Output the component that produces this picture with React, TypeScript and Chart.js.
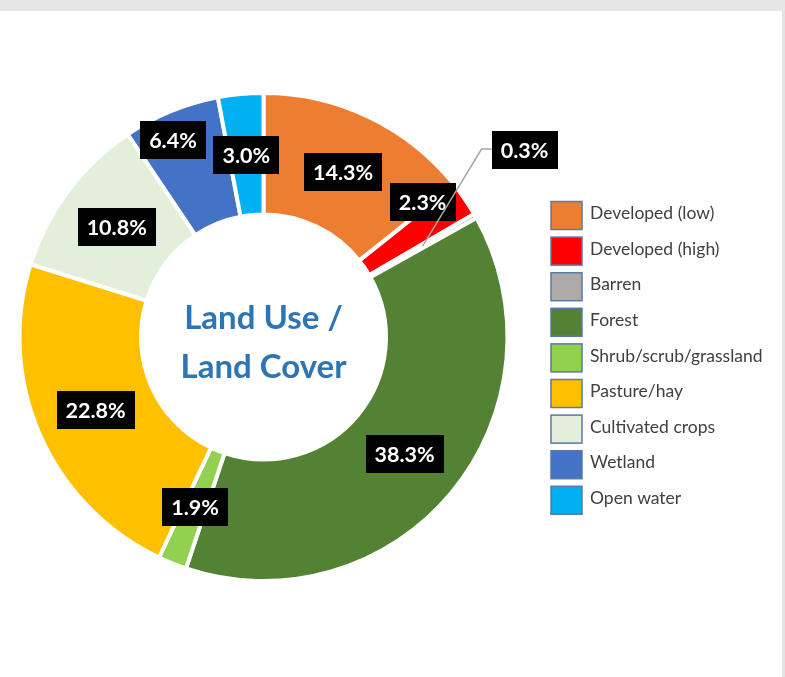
import React, { useEffect, useRef } from "react";
import { Chart, registerables } from "chart.js";

Chart.register(...registerables);

const categories = [
  "Developed (low)",
  "Developed (high)",
  "Barren",
  "Forest",
  "Shrub/scrub/grassland",
  "Pasture/hay",
  "Cultivated crops",
  "Wetland",
  "Open water",
];
const shares = [14.3, 2.3, 0.3, 38.3, 1.9, 22.8, 10.8, 6.4, 3.0];
const sliceColors = [
  "#ED7D31",
  "#FF0000",
  "#AEAAAA",
  "#548235",
  "#92D050",
  "#FFC000",
  "#E2EFDA",
  "#4472C4",
  "#00B0F0",
];
const centerTitle = ["Land Use /", "Land Cover"];

// layout tweaks for labels (pixel nudges from slice centre)
const labelNudges: Record<number, [number, number]> = {
  1: [8, -31],
  7: [-21, -27],
};
const externalLabels: Record<number, { elbow: [number, number]; box: [number, number] }> = {
  2: { elbow: [59, -97], box: [102, -96] },
};

const FONT = "Lato, 'Noto Sans', sans-serif";

const pagePlugin = {
  id: "pageDecor",
  beforeDraw(chart: any) {
    const ctx = chart.ctx;
    ctx.save();
    ctx.fillStyle = "#ffffff";
    ctx.fillRect(0, 0, chart.width, chart.height);
    ctx.fillStyle = "#e6e6e6";
    ctx.fillRect(0, 0, chart.width, 11);
    ctx.fillStyle = "#e3e3e3";
    ctx.fillRect(chart.width - 3, 11, 3, chart.height - 11);
    ctx.restore();
  },
};

const labelPlugin = {
  id: "sliceLabels",
  afterDatasetsDraw(chart: any) {
    const ctx = chart.ctx;
    const meta = chart.getDatasetMeta(0);
    const values = chart.data.datasets[0].data as number[];
    ctx.save();
    ctx.font = `bold 21.5px ${FONT}`;
    ctx.textAlign = "center";
    ctx.textBaseline = "middle";
    meta.data.forEach((arc: any, i: number) => {
      const p = arc.getProps(["startAngle", "endAngle", "innerRadius", "outerRadius", "x", "y"], true);
      const mid = (p.startAngle + p.endAngle) / 2;
      const r = (p.innerRadius + p.outerRadius) / 2;
      const ax = p.x + Math.cos(mid) * r;
      const ay = p.y + Math.sin(mid) * r;
      let bx = ax;
      let by = ay;
      const ext = externalLabels[i];
      if (ext) {
        bx = ax + ext.box[0];
        by = ay + ext.box[1];
      } else if (labelNudges[i]) {
        bx = ax + labelNudges[i][0];
        by = ay + labelNudges[i][1];
      }
      const text = values[i].toFixed(1) + "%";
      const w = ctx.measureText(text).width + 18;
      const h = 38;
      if (ext) {
        ctx.strokeStyle = "#a6a6a6";
        ctx.lineWidth = 1.5;
        ctx.beginPath();
        ctx.moveTo(ax, ay);
        ctx.lineTo(ax + ext.elbow[0], ay + ext.elbow[1]);
        ctx.lineTo(bx - w / 2, ay + ext.elbow[1]);
        ctx.stroke();
      }
      ctx.fillStyle = "#000000";
      ctx.fillRect(Math.round(bx - w / 2), Math.round(by - h / 2), Math.round(w), h);
      ctx.fillStyle = "#ffffff";
      ctx.fillText(text, bx, by + 1);
    });
    ctx.restore();
  },
};

const centerPlugin = {
  id: "centerTitle",
  afterDraw(chart: any) {
    const ctx = chart.ctx;
    const arc = chart.getDatasetMeta(0).data[0];
    if (!arc) return;
    const cx = arc.x;
    const cy = arc.y;
    ctx.save();
    ctx.font = `bold 33px ${FONT}`;
    ctx.fillStyle = "#2E75B6";
    ctx.textAlign = "center";
    ctx.textBaseline = "alphabetic";
    ctx.fillText(centerTitle[0], cx, cy - 8);
    ctx.fillText(centerTitle[1], cx, cy + 41);
    ctx.restore();
  },
};

const legendPlugin = {
  id: "sideLegend",
  afterDraw(chart: any) {
    const ctx = chart.ctx;
    ctx.save();
    const x0 = 551;
    const y0 = 201.5;
    const step = 35.6;
    categories.forEach((name, i) => {
      const y = y0 + i * step;
      ctx.fillStyle = sliceColors[i];
      ctx.fillRect(x0, y, 31, 28);
      ctx.strokeStyle = "#5A78A8";
      ctx.lineWidth = 1.5;
      ctx.strokeRect(x0, y, 31, 28);
      ctx.fillStyle = "#404040";
      ctx.font = `17.5px ${FONT}`;
      ctx.textAlign = "left";
      ctx.textBaseline = "middle";
      ctx.fillText(name, 590, y + 12);
    });
    ctx.restore();
  },
};

export default function App() {
  const ref = useRef<HTMLCanvasElement | null>(null);
  useEffect(() => {
    if (!ref.current) return;
    const chart = new Chart(ref.current, {
      type: "doughnut",
      data: {
        labels: categories,
        datasets: [
          {
            data: shares,
            backgroundColor: sliceColors,
            borderColor: "#ffffff",
            borderWidth: 4,
          },
        ],
      },
      options: {
        responsive: true,
        maintainAspectRatio: false,
        animation: false,
        cutout: "50.2%",
        layout: {
          padding: { left: 17.5, top: 91, right: 275.5, bottom: 94 },
        },
        plugins: {
          legend: { display: false },
          tooltip: { enabled: false },
        },
      },
      plugins: [pagePlugin, labelPlugin, centerPlugin, legendPlugin],
    });
    return () => chart.destroy();
  }, []);
  return (
    <div style={{ position: "fixed", left: 0, top: 0, width: 785, height: 677, background: "#fff" }}>
      <canvas ref={ref} />
    </div>
  );
}
